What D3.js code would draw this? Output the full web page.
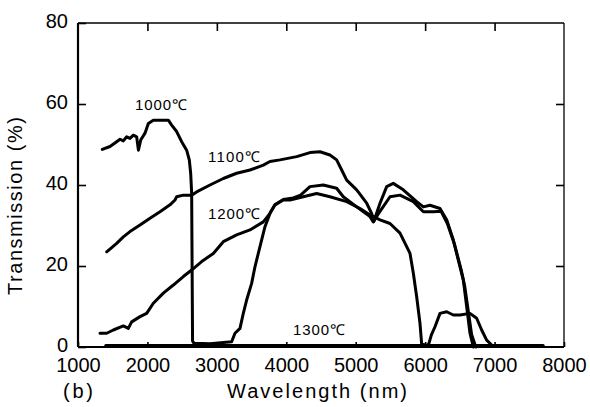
<!DOCTYPE html>
<html>
<head>
<meta charset="utf-8">
<script src="https://cdn.jsdelivr.net/npm/d3@7"></script>
<style>
  body { margin: 0; background: #fff; }
  text { font-family: "Liberation Sans", Arial, sans-serif; fill: #000; }
</style>
</head>
<body>
<div id="chart"></div>
<script>
// tick values
var xTicks = [1000, 2000, 3000, 4000, 5000, 6000, 7000, 8000];
var yTicks = [0, 20, 40, 60, 80];

// 1000 C curve
var wl1000 = [1350, 1461, 1557, 1605, 1653, 1701, 1749, 1797, 1845, 1870, 1903, 1965, 2013, 2085, 2301, 2349, 2421, 2493, 2565, 2603, 2623, 2637, 2650, 2670, 2900, 3213, 3261, 3333, 3381, 3429, 3501, 3549, 3621, 3693, 3765, 3837, 3957, 4100, 4206, 4341, 4533, 4725, 4821, 5014, 5206, 5253, 5330, 5494, 5638, 5830, 5974, 6118, 6230, 6320, 6420, 6520, 6570, 6620, 6670, 6730];
var tr1000 = [48.8, 49.5, 50.7, 51.3, 50.9, 51.9, 51.5, 52.3, 51.9, 48.6, 51.1, 52.8, 55.2, 56.0, 56.0, 54.8, 53.2, 50.7, 48.6, 46.2, 42.9, 38.0, 1.5, 0.9, 0.8, 1.3, 3.4, 4.6, 8.3, 11.6, 15.7, 19.8, 24.8, 29.7, 33.0, 35.1, 36.4, 36.8, 37.5, 39.6, 40.0, 39.2, 37.1, 34.6, 32.2, 30.9, 33.0, 37.1, 37.5, 35.9, 33.4, 33.4, 33.5, 30.5, 25.5, 19.0, 15.0, 9.0, 3.0, 0];

// 1100 C curve
var wl1100 = [1413, 1557, 1653, 1749, 1893, 2037, 2181, 2325, 2397, 2421, 2517, 2637, 2709, 2901, 3093, 3285, 3477, 3669, 3765, 3909, 4150, 4341, 4485, 4629, 4725, 4798, 4870, 5014, 5158, 5229, 5260, 5350, 5446, 5541, 5685, 5878, 5974, 6070, 6214, 6310, 6406, 6502, 6550, 6598, 6646, 6694];
var tr1100 = [23.5, 25.6, 27.2, 28.5, 30.1, 31.8, 33.4, 35.1, 36.3, 37.1, 37.5, 37.5, 38.3, 40.0, 41.6, 42.9, 43.7, 44.9, 45.8, 46.2, 47.0, 48.0, 48.2, 47.4, 46.2, 43.7, 41.2, 38.8, 35.5, 33.0, 31.0, 35.5, 39.6, 40.4, 38.8, 35.9, 34.6, 35.0, 34.2, 31.4, 26.4, 19.8, 16.5, 10.0, 3.4, 0];

// 1200 C curve
var wl1200 = [1317, 1413, 1509, 1653, 1725, 1773, 1893, 1989, 2085, 2229, 2373, 2517, 2637, 2781, 2949, 3093, 3285, 3477, 3669, 3765, 3837, 3957, 4053, 4245, 4437, 4629, 4870, 5062, 5206, 5350, 5494, 5638, 5734, 5782, 5830, 5878, 5926, 5950, 6046, 6090, 6142, 6214, 6310, 6406, 6502, 6646, 6742, 6814, 6886, 6958];
var tr1200 = [3.4, 3.4, 4.2, 5.2, 4.6, 6.2, 7.5, 8.3, 10.8, 13.3, 15.3, 17.4, 19.0, 21.1, 23.1, 26.0, 27.7, 28.9, 30.9, 33.0, 35.1, 36.3, 36.3, 37.1, 37.9, 37.1, 35.9, 34.2, 32.6, 31.4, 30.5, 28.1, 24.8, 23.1, 18.2, 12.4, 5.8, 0.7, 0.4, 3.0, 5.0, 8.3, 8.7, 7.9, 7.9, 8.3, 7.1, 4.2, 1.7, 0.5];

// 1300 C curve
var wl1300 = [1400, 3000, 5000, 7700];
var tr1300 = [0.4, 0.4, 0.4, 0.4];

var seriesNames = ["1000℃", "1100℃", "1200℃", "1300℃"];

var margin = {top: 23, right: 26, bottom: 60, left: 78},
    width = 590 - margin.left - margin.right,
    height = 407 - margin.top - margin.bottom;

var svg = d3.select("#chart")
  .append("svg")
    .attr("width", 590)
    .attr("height", 407)
  .append("g")
    .attr("transform", "translate(" + margin.left + "," + margin.top + ")");

var x = d3.scaleLinear().domain([1000, 8000]).range([0, width]);
var y = d3.scaleLinear().domain([0, 80]).range([height, 0]);

// bottom axis, ticks pointing inward
svg.append("g")
  .attr("transform", "translate(0," + height + ")")
  .call(d3.axisBottom(x).tickValues(xTicks).tickSizeInner(-5).tickSizeOuter(0).tickPadding(11).tickFormat(d3.format("d")));
// top axis ticks
svg.append("g")
  .call(d3.axisTop(x).tickValues(xTicks.slice(1, -1)).tickSizeInner(-8).tickSizeOuter(0).tickFormat(""));
// left axis
var yAxis = svg.append("g")
  .call(d3.axisLeft(y).tickValues(yTicks).tickSizeInner(-8).tickSizeOuter(0).tickPadding(10));
yAxis.selectAll(".tick text").attr("dy", "0.22em");
// right axis ticks
svg.append("g")
  .attr("transform", "translate(" + width + ",0)")
  .call(d3.axisRight(y).tickValues(yTicks.slice(1, -1)).tickSizeInner(-8).tickSizeOuter(0).tickFormat(""));

svg.selectAll(".domain").remove();
svg.selectAll(".tick line").attr("stroke", "#000").attr("stroke-width", 1.6);
svg.selectAll(".tick text")
  .style("font-size", "20px")
  .style("font-family", "'Liberation Sans', Arial, sans-serif")
  .attr("fill", "#000");

// frame
svg.append("line").attr("x1", 0).attr("x2", 0).attr("y1", 0).attr("y2", height).attr("stroke", "#000").attr("stroke-width", 2.2);
svg.append("line").attr("x1", 0).attr("x2", width).attr("y1", height).attr("y2", height).attr("stroke", "#000").attr("stroke-width", 2.2);
svg.append("line").attr("x1", 0).attr("x2", width).attr("y1", 0).attr("y2", 0).attr("stroke", "#000").attr("stroke-width", 1.6);
svg.append("line").attr("x1", width).attr("x2", width).attr("y1", 0).attr("y2", height).attr("stroke", "#000").attr("stroke-width", 1.3);

// curves
var curves = [
  {name: seriesNames[0], wl: wl1000, tr: tr1000},
  {name: seriesNames[1], wl: wl1100, tr: tr1100},
  {name: seriesNames[2], wl: wl1200, tr: tr1200},
  {name: seriesNames[3], wl: wl1300, tr: tr1300}
];

var line = d3.line()
  .x(function(d) { return x(d[0]); })
  .y(function(d) { return y(d[1]); });

curves.forEach(function(c) {
  var pts = c.wl.map(function(w, i) { return [w, c.tr[i]]; });
  svg.append("path")
    .datum(pts)
    .attr("fill", "none")
    .attr("stroke", "#000")
    .attr("stroke-width", 3)
    .attr("stroke-linejoin", "round")
    .attr("stroke-linecap", "round")
    .attr("d", line);
});

// curve labels (position in data units)
var labelPos = [[1821, 58.5], [2872, 45.7], [2872, 31.6], [4097, 2.97]];
seriesNames.forEach(function(n, i) {
  svg.append("text")
    .attr("x", x(labelPos[i][0]))
    .attr("y", y(labelPos[i][1]))
    .attr("textLength", 52)
    .style("font-size", "15px")
    .text(n);
});

// axis titles
svg.append("text")
  .attr("transform", "translate(-56," + (height / 2 - 140) + ") rotate(-90)")
  .attr("x", -161)
  .attr("y", 0)
  .attr("text-anchor", "middle")
  .attr("textLength", 178)
  .style("font-size", "20px")
  .text("Transmission (%)");

svg.append("text")
  .attr("x", 149)
  .attr("y", height + 51)
  .attr("textLength", 180)
  .style("font-size", "20px")
  .text("Wavelength (nm)");

svg.append("text")
  .attr("x", -15)
  .attr("y", height + 51)
  .attr("textLength", 30)
  .style("font-size", "20px")
  .text("(b)");
</script>
</body>
</html>
